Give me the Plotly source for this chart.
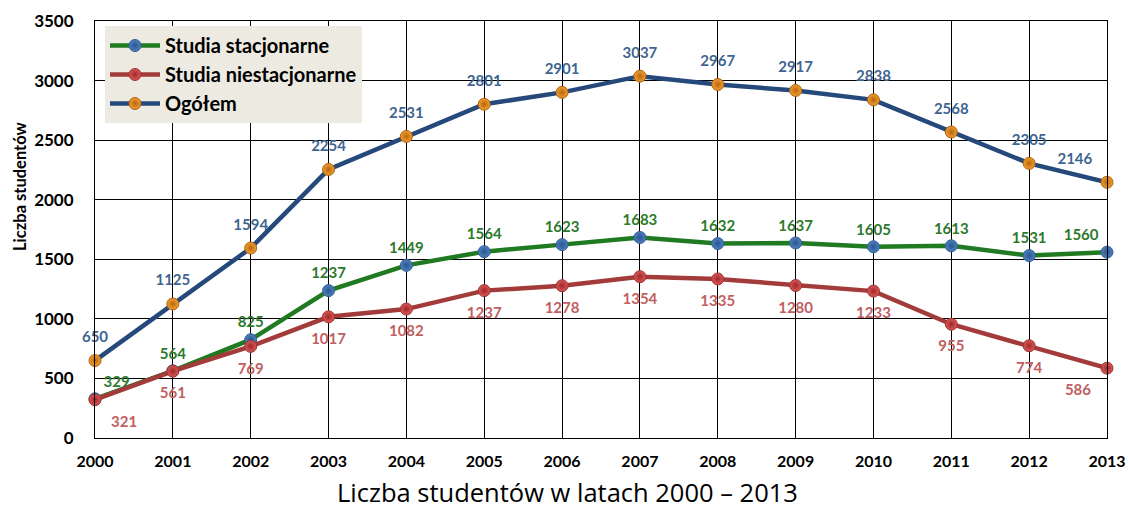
import plotly.graph_objects as go

years = [2000, 2001, 2002, 2003, 2004, 2005, 2006, 2007, 2008, 2009, 2010, 2011, 2012, 2013]
stacjonarne = [329, 564, 825, 1237, 1449, 1564, 1623, 1683, 1632, 1637, 1605, 1613, 1531, 1560]
niestacjonarne = [321, 561, 769, 1017, 1082, 1237, 1278, 1354, 1335, 1280, 1233, 955, 774, 586]
ogolem = [650, 1125, 1594, 2254, 2531, 2801, 2901, 3037, 2967, 2917, 2838, 2568, 2305, 2146]
y_ticks = [0, 500, 1000, 1500, 2000, 2500, 3000, 3500]

names = ["Studia stacjonarne", "Studia niestacjonarne", "Ogółem"]
title_text = "Liczba studentów w latach 2000 – 2013"
y_title = "Liczba studentów"

FONT = "Lato"

# plot area in page pixels: x 95..1107, y 21..438
PL, PR, PT, PB = 95, 1107, 21, 438
PW, PH = PR - PL, PB - PT
FIG_W, FIG_H = 1129, 511

pos_st = ["top right"] + ["top center"] * 12 + ["top left"]
pos_nst = ["bottom right"] + ["bottom center"] * 12 + ["bottom left"]
pos_og = ["top center"] * 13 + ["top left"]

series = [
    (names[0], stacjonarne, "#1f7a21", "#4f81bd", "#2a5590", "#2f5f9a", "#2d7a2d", pos_st, 12),
    (names[1], niestacjonarne, "#a33b3b", "#d9595a", "#a02828", "#a03030", "#c0605f", pos_nst, 24),
    (names[2], ogolem, "#24497a", "#f0a030", "#b8650f", "#b06010", "#3e6590", pos_og, 22),
]

fig = go.Figure()

for i, (nm, vals, lc, mc, gc, ec, tc, pos, tsize) in enumerate(series):
    fig.add_trace(go.Scatter(
        x=years, y=vals, name=nm, mode="lines+markers", legendgroup=f"g{i}",
        line=dict(color=lc, width=4.5),
        marker=dict(size=12, color=mc, line=dict(color=ec, width=1),
                    gradient=dict(type="radial", color=gc)),
        cliponaxis=False,
    ))
for i, (nm, vals, lc, mc, gc, ec, tc, pos, tsize) in enumerate(series):
    fig.add_trace(go.Scatter(
        x=years, y=vals, mode="markers+text", showlegend=False, hoverinfo="skip",
        marker=dict(size=tsize, color="rgba(0,0,0,0)"),
        text=[str(v) for v in vals], textposition=pos,
        textfont=dict(family=FONT, size=15, color=tc, weight="bold"),
        cliponaxis=False,
    ))

fig.update_layout(
    width=FIG_W, height=FIG_H,
    margin=dict(l=PL, r=FIG_W - PR, t=PT, b=FIG_H - PB, pad=0),
    paper_bgcolor="white", plot_bgcolor="white",
    font=dict(family=FONT, color="black"),
    showlegend=True,
    legend=dict(
        x=10 / PW, y=1 - 5 / PH, xanchor="left", yanchor="top",
        bgcolor="#eceae1", borderwidth=0,
        font=dict(family=FONT, size=20, color="black", weight="bold"),
        entrywidth=242, entrywidthmode="pixels",
        tracegroupgap=0, itemwidth=50,
    ),
    annotations=[
        dict(text=title_text, xref="paper", yref="paper",
             x=(567 - PL) / PW, y=-(492 - PB) / PH, xanchor="center", yanchor="middle",
             showarrow=False, font=dict(family="Open Sans", size=25.5, color="black")),
        dict(text=y_title, xref="paper", yref="paper", textangle=-90,
             x=(20 - PL) / PW, y=(PB - 186) / PH, xanchor="center", yanchor="middle",
             showarrow=False, font=dict(family=FONT, size=16.5, color="black", weight="bold")),
    ],
)

fig.update_xaxes(
    range=[2000, 2013], tickmode="array", tickvals=years,
    ticktext=[str(y) for y in years], automargin=False,
    showgrid=True, gridcolor="black", gridwidth=1,
    showline=True, linecolor="black", linewidth=1, mirror=True,
    tickfont=dict(family=FONT, size=16, color="black", weight="bold"),
    ticks="", zeroline=False, ticklabelstandoff=9, ticklabeloverflow="allow",
)
fig.update_yaxes(
    range=[0, 3500], tickmode="array", tickvals=y_ticks, automargin=False,
    showgrid=True, gridcolor="black", gridwidth=1,
    showline=True, linecolor="black", linewidth=1, mirror=True,
    tickfont=dict(family=FONT, size=17, color="black", weight="bold"),
    ticks="", zeroline=False, ticklabelstandoff=17, ticklabeloverflow="allow",
)

fig.write_html(
    "out.html",
    config={"displayModeBar": False},
    post_script="document.body.style.margin='0';document.documentElement.style.overflow='hidden';",
)
